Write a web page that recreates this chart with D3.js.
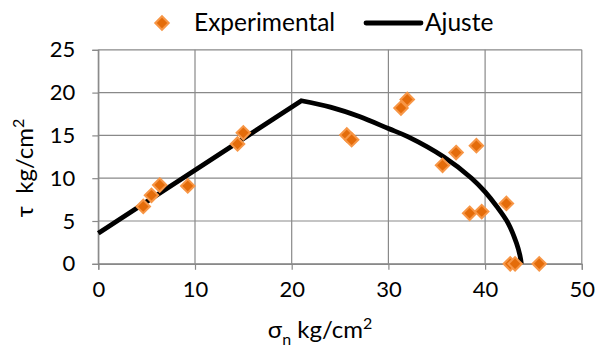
<!DOCTYPE html>
<html>
<head>
<meta charset="utf-8">
<script src="https://cdn.jsdelivr.net/npm/d3@7"></script>
<style>
  html, body { margin: 0; padding: 0; background: #fff; }
  svg { display: block; font-family: Lato, "Open Sans", sans-serif; }
</style>
</head>
<body>
<svg id="chart" width="604" height="358"></svg>
<script>
// Experimental shear tests: normal stress (σn) vs shear stress (τ), kg/cm²
const expSigma = [4.65, 5.5, 6.35, 9.25, 14.4, 15.0, 25.7, 26.2, 31.3, 31.95, 35.6, 37.0, 39.1, 38.4, 39.65, 42.2, 42.6, 43.1, 45.6];
const expTau   = [6.7, 8.0, 9.2, 9.1, 14.0, 15.3, 15.05, 14.5, 18.2, 19.2, 11.5, 13.0, 13.8, 5.9, 6.1, 7.05, 0.0, 0.0, 0.0];

// Fitted envelope: straight branch up to the peak, then the curved cap
const fitLineSigma = [0, 21.0];
const fitLineTau   = [3.56, 19.05];
const fitCapSigma  = [21.0, 24.0, 27.0, 30.0, 32.0, 35.7, 38.6, 40.0, 41.2, 42.4, 43.25, 43.6, 43.75];
const fitCapTau    = [19.05, 18.3, 17.2, 15.8, 14.85, 12.5, 10.0, 8.4, 6.7, 4.7, 2.4, 1.0, 0.0];

const xTicks = [0, 10, 20, 30, 40, 50];
const yTicks = [0, 5, 10, 15, 20, 25];
const legendLabels = ["Experimental", "Ajuste"];

const svg = d3.select("#chart");
const plot = { left: 98.3, right: 581.8, top: 49.8, bottom: 263.8 };

const x = d3.scaleLinear().domain([0, 50]).range([plot.left, plot.right]);
const y = d3.scaleLinear().domain([0, 25]).range([plot.bottom, plot.top]);

const gridColor = "#898989";

// Gridlines
const grid = svg.append("g");
grid.selectAll("line.v").data(xTicks).join("line")
  .attr("x1", d => x(d)).attr("x2", d => x(d))
  .attr("y1", plot.top).attr("y2", plot.bottom)
  .attr("stroke", gridColor).attr("stroke-width", 1.2);
grid.selectAll("line.h").data(yTicks).join("line")
  .attr("x1", plot.left).attr("x2", plot.right)
  .attr("y1", d => y(d)).attr("y2", d => y(d))
  .attr("stroke", gridColor).attr("stroke-width", 1.2);

// Axes
const xAxis = svg.append("g")
  .attr("transform", `translate(0,${plot.bottom})`)
  .call(d3.axisBottom(x).tickValues(xTicks).tickSize(6).tickPadding(12).tickFormat(d3.format("d")));
const yAxis = svg.append("g")
  .attr("transform", `translate(${plot.left},0)`)
  .call(d3.axisLeft(y).tickValues(yTicks).tickSize(6).tickPadding(17).tickFormat(d3.format("d")));
[xAxis, yAxis].forEach(g => {
  g.select(".domain").attr("stroke", gridColor).attr("stroke-width", 1.2);
  g.selectAll(".tick line").attr("stroke", gridColor).attr("stroke-width", 1.2);
  g.selectAll(".tick text").attr("fill", "#000").style("font-size", "22px")
    .style("font-family", "Lato, 'Open Sans', sans-serif");
});

// Fitted envelope
const lineGen = d3.line().x(d => x(d[0])).y(d => y(d[1]));
const capGen = d3.line().x(d => x(d[0])).y(d => y(d[1])).curve(d3.curveCatmullRom.alpha(0.5));
const straight = lineGen(fitLineSigma.map((s, i) => [s, fitLineTau[i]]));
const cap = capGen(fitCapSigma.map((s, i) => [s, fitCapTau[i]]));
svg.append("path")
  .attr("d", straight + cap.replace(/^M/, "L"))
  .attr("fill", "none").attr("stroke", "#000").attr("stroke-width", 4.8)
  .attr("stroke-linejoin", "miter");

// Experimental points as diamonds
const diamond = d3.symbol().type(d3.symbolDiamond2).size(115);
svg.append("g").selectAll("path").data(expSigma.map((s, i) => [s, expTau[i]])).join("path")
  .attr("d", diamond)
  .attr("transform", d => `translate(${x(d[0])},${y(d[1])})`)
  .attr("fill", "#E46C0A").attr("stroke", "#F79646").attr("stroke-width", 2);

// Axis titles
const xTitle = svg.append("text").attr("x", 320).attr("y", 338)
  .attr("text-anchor", "middle").style("font-size", "24px");
xTitle.append("tspan").text("σ");
xTitle.append("tspan").attr("dy", 7).style("font-size", "16px").text("n");
xTitle.append("tspan").attr("dy", -7).text(" kg/cm");
xTitle.append("tspan").attr("dy", -9).style("font-size", "16px").text("2");

const yTitle = svg.append("text")
  .attr("transform", "translate(33,168) rotate(-90)")
  .attr("text-anchor", "middle").style("font-size", "24px");
yTitle.append("tspan").text("τ\u00a0\u00a0kg/cm");
yTitle.append("tspan").attr("dy", -9).style("font-size", "16px").text("2");

// Legend
const legend = svg.append("g");
legend.append("path").attr("d", diamond)
  .attr("transform", "translate(162,23)")
  .attr("fill", "#E46C0A").attr("stroke", "#F79646").attr("stroke-width", 2);
legend.append("text").attr("x", 194).attr("y", 31).style("font-size", "24.5px").text(legendLabels[0]);
legend.append("line").attr("x1", 366).attr("x2", 421).attr("y1", 23).attr("y2", 23)
  .attr("stroke", "#000").attr("stroke-width", 4.8).attr("stroke-linecap", "round");
legend.append("text").attr("x", 425).attr("y", 31).style("font-size", "24.5px").text(legendLabels[1]);
</script>
</body>
</html>
